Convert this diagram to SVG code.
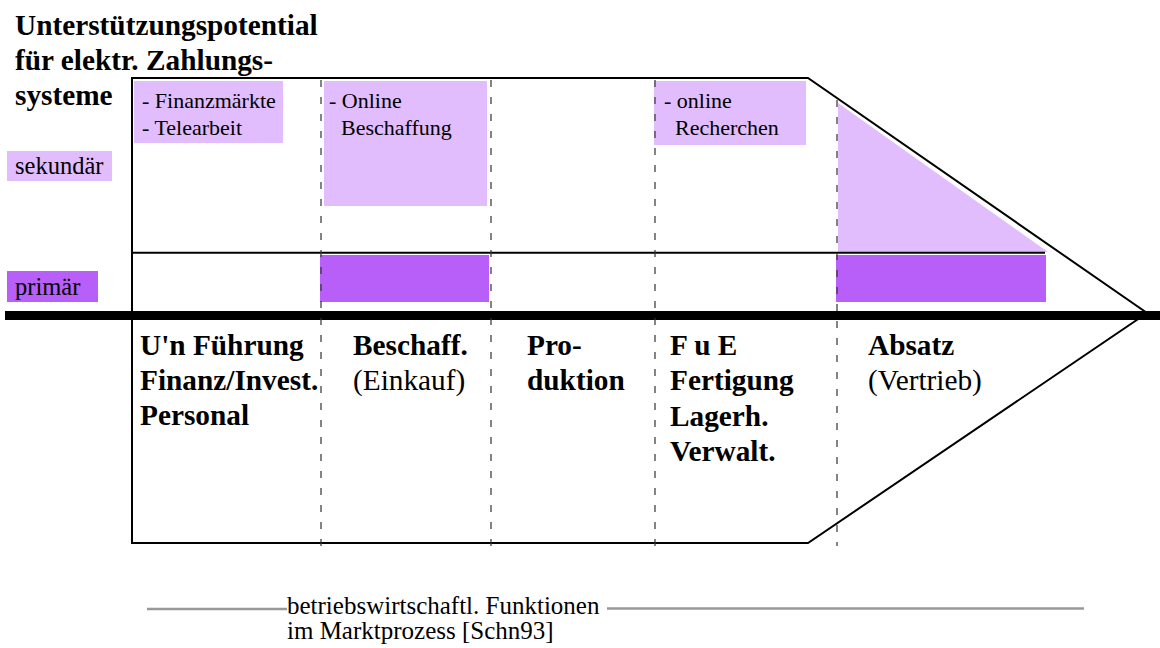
<svg xmlns="http://www.w3.org/2000/svg" width="1160" height="648" viewBox="0 0 1160 648">
  <style>
    .title { font-family: "Liberation Serif", "Times New Roman", serif; font-weight: bold; font-size: 29.3px; fill: #000; }
    .lbl { font-family: "Liberation Serif", "Times New Roman", serif; font-weight: bold; font-size: 29.3px; fill: #000; }
    .lblr { font-family: "Liberation Serif", "Times New Roman", serif; font-size: 29.3px; fill: #000; }
    .small { font-family: "Liberation Serif", "Times New Roman", serif; font-size: 22px; fill: #000; }
    .legend { font-family: "Liberation Serif", "Times New Roman", serif; font-size: 24.5px; fill: #000; }
    .foot { font-family: "Liberation Serif", "Times New Roman", serif; font-size: 25px; fill: #000; }
    .light { fill: #e1bdfd; }
    .dark { fill: #b75ff8; }
    .outline { fill: none; stroke: #000; stroke-width: 2; }
    .divider { stroke: #333; stroke-width: 1.2; stroke-dasharray: 7 10; fill: none; }
    .rule { stroke: #999; stroke-width: 2.5; }
  </style>

  <!-- heading -->
  <g id="heading">
    <text class="title" x="15" y="35">Unterstützungspotential</text>
    <text class="title" x="15" y="70">für elektr. Zahlungs-</text>
    <text class="title" x="15" y="105">systeme</text>
  </g>

  <!-- legend -->
  <g id="legend-sekundaer">
    <rect class="light" x="7" y="151" width="105" height="30"/>
    <text class="legend" x="15" y="174">sekundär</text>
  </g>
  <g id="legend-primaer">
    <rect class="dark" x="7" y="271" width="91" height="31"/>
    <text class="legend" x="15" y="295">primär</text>
  </g>

  <!-- filled support areas -->
  <g id="area-finanz">
    <rect class="light" x="134" y="81" width="149" height="62"/>
    <text class="small" x="142" y="108">- Finanzmärkte</text>
    <text class="small" x="142" y="135">- Telearbeit</text>
  </g>
  <g id="area-beschaffung">
    <rect class="light" x="324" y="81" width="163" height="125"/>
    <text class="small" x="329" y="108">- Online</text>
    <text class="small" x="341" y="135">Beschaffung</text>
    <rect class="dark" x="320" y="255" width="169" height="47"/>
  </g>
  <g id="area-recherche">
    <rect class="light" x="654" y="81" width="152" height="64"/>
    <text class="small" x="664" y="108">- online</text>
    <text class="small" x="675" y="135">Recherchen</text>
  </g>
  <g id="area-absatz">
    <polygon class="light" points="838,103 1048,252 838,252"/>
    <rect class="dark" x="836" y="255" width="210" height="47"/>
  </g>

  <!-- frame, separators and dividers -->
  <g id="connectors">
    <polygon class="outline" points="132,78 808,78 1147,313 808,543 132,543"/>
    <line x1="132" y1="252.7" x2="1045" y2="252.7" stroke="#000" stroke-width="2"/>
    <line x1="5" y1="315.5" x2="1160" y2="315.5" stroke="#000" stroke-width="9"/>
    <line class="divider" x1="321" y1="80" x2="321" y2="546"/>
    <line class="divider" x1="491" y1="80" x2="491" y2="546"/>
    <line class="divider" x1="655" y1="80" x2="655" y2="546"/>
    <line class="divider" x1="837" y1="100" x2="837" y2="546"/>
    <line class="rule" x1="147" y1="609" x2="287" y2="609"/>
    <line class="rule" x1="607" y1="608.5" x2="1084" y2="608.5"/>
  </g>

  <!-- function columns -->
  <g id="col-fuehrung">
    <text class="lbl" x="140" y="355">U'n Führung</text>
    <text class="lbl" x="140" y="390">Finanz/Invest.</text>
    <text class="lbl" x="140" y="425">Personal</text>
  </g>
  <g id="col-beschaffung">
    <text class="lbl" x="353" y="355">Beschaff.</text>
    <text class="lblr" x="353" y="390">(Einkauf)</text>
  </g>
  <g id="col-produktion">
    <text class="lbl" x="527" y="355">Pro-</text>
    <text class="lbl" x="527" y="390">duktion</text>
  </g>
  <g id="col-fue">
    <text class="lbl" x="670" y="355">F u E</text>
    <text class="lbl" x="670" y="390">Fertigung</text>
    <text class="lbl" x="670" y="426">Lagerh.</text>
    <text class="lbl" x="670" y="461">Verwalt.</text>
  </g>
  <g id="col-absatz">
    <text class="lbl" x="868" y="355">Absatz</text>
    <text class="lblr" x="868" y="390">(Vertrieb)</text>
  </g>

  <!-- caption -->
  <g id="caption">
    <text class="foot" x="287" y="614">betriebswirtschaftl. Funktionen</text>
    <text class="foot" x="287" y="639">im Marktprozess [Schn93]</text>
  </g>
</svg>
